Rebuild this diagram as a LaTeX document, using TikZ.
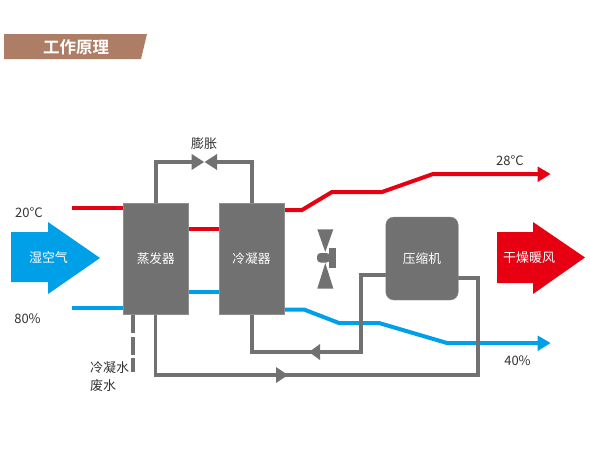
\documentclass[tikz,border=0pt]{standalone}
\usepackage{fontspec}
\setmainfont{Noto Sans CJK SC}
\newfontfamily\titlefont{Noto Sans CJK SC Bold}
\definecolor{gr}{HTML}{717171}
\definecolor{rd}{HTML}{E60012}
\definecolor{bl}{HTML}{00A0E9}
\definecolor{brn}{HTML}{AD7E65}
\definecolor{tx}{HTML}{333333}
\begin{document}
\begin{tikzpicture}[x=1pt,y=-1pt,
  pipe/.style={draw=gr,line width=3.7pt,line join=miter},
  redline/.style={draw=rd,line width=4pt},
  blueline/.style={draw=bl,line width=4pt},
  unit/.style={fill=gr,draw=gr!80!white,line width=.3pt,text=white,inner sep=0pt,font=\fontsize{12.7}{13}\selectfont},
  lbl/.style={text=tx,inner sep=0pt,font=\fontsize{13}{18}\selectfont},
  tip/.style={fill=gr,draw=none}]
\useasboundingbox (0,0) rectangle (590,448);
\fill[white] (0,0) rectangle (590,448);
% banner
\fill[brn] (4,34) -- (147,34) -- (141,59) -- (4,59) -- cycle;
\node[text=white,inner sep=0pt,font=\titlefont\fontsize{16.5}{17}\selectfont] (title) at (76,47) {工作原理};
% big arrows
\fill[bl] (11,232) -- (48,232) -- (48,222) -- (100,258) -- (48,294) -- (48,282) -- (11,282) -- cycle;
\node[text=white,inner sep=0pt,font=\fontsize{13}{14}\selectfont] (wet) at (48.5,258) {湿空气};
\fill[rd] (497,232) -- (533,232) -- (533,222) -- (585,257.5) -- (533,294) -- (533,283) -- (497,283) -- cycle;
\node[text=white,inner sep=0pt,font=\fontsize{13}{14}\selectfont] (dry) at (529,258) {干燥暖风};
% nodes
\coordinate (redin) at (72,208);
\coordinate (bluein) at (72,308);
\coordinate (valve) at (204.3,162);
% air lines
\draw[redline] (redin) -- (124,208);
\draw[redline] (188,228.5) -- (219,228.5);
\draw[redline] (284,210) -- (302,210) -- (332,192) -- (382,192) -- (433,174) -- (540,174);
\fill[rd] (537.7,166.5) -- (550.5,174) -- (537.7,182) -- cycle;
\draw[blueline] (bluein) -- (124,308);
\draw[blueline] (188,292) -- (219,292);
\draw[blueline] (284,309.5) -- (304,309.5) -- (339,323) -- (379,323) -- (447,343) -- (540,343);
\fill[bl] (537.7,335.5) -- (550.5,343) -- (537.7,351) -- cycle;
% pipes
\draw[pipe] (155.7,203) -- (155.7,162) -- (195,162);
\draw[pipe] (252.3,203) -- (252.3,162) -- (214,162);
\fill[tip] (191.7,154) -- (204,162) -- (191.7,170) -- cycle;
\fill[tip] (217,154) -- (204.6,162) -- (217,170) -- cycle;
\draw[pipe] (251.7,314) -- (251.7,352) -- (361,352) -- (361,275) -- (386,275);
\fill[tip] (320,344) -- (309,352) -- (320,360) -- cycle;
\draw[pipe] (458,278) -- (478,278) -- (478,375) -- (155.5,375) -- (155.5,314);
\fill[tip] (276,367) -- (288,375) -- (276,383) -- cycle;
\draw[gr,line width=3.7pt] (132.7,314) -- (132.7,333) (132.7,337) -- (132.7,355) (132.7,358) -- (132.7,372);
% units
\node[unit,minimum width=64.5pt,minimum height=111pt] (evap) at (155.8,258.5) {蒸发器};
\node[unit,minimum width=65pt,minimum height=111pt] (cond) at (251.5,258.5) {冷凝器};
\node[unit,rounded corners=8pt,minimum width=72.5pt,minimum height=83pt] (comp) at (422,258.5) {压缩机};
% fan
\fill[gr] (317.3,229.3) -- (333.3,229.3) -- (325.3,252) -- cycle;
\fill[gr] (317.3,288.5) -- (333.3,288.5) -- (325.3,263) -- cycle;
\fill[gr,rounded corners=3.5pt] (330,253) -- (317,253) -- (317,262.5) -- (330,262.5) -- cycle;
\fill[gr] (329,248) rectangle (336,267.7);
% labels
\node[lbl] (expand) at (204,144) {膨胀};
\node[lbl] (t1) at (29,213) {20°C};
\node[lbl] (h1) at (27.5,319) {80\%};
\node[lbl] (t2) at (510,161) {28°C};
\node[lbl] (h2) at (517.5,361) {40\%};
\node[lbl,align=left,anchor=west] (waste) at (90,377) {冷凝水\\废水};
\end{tikzpicture}
\end{document}
